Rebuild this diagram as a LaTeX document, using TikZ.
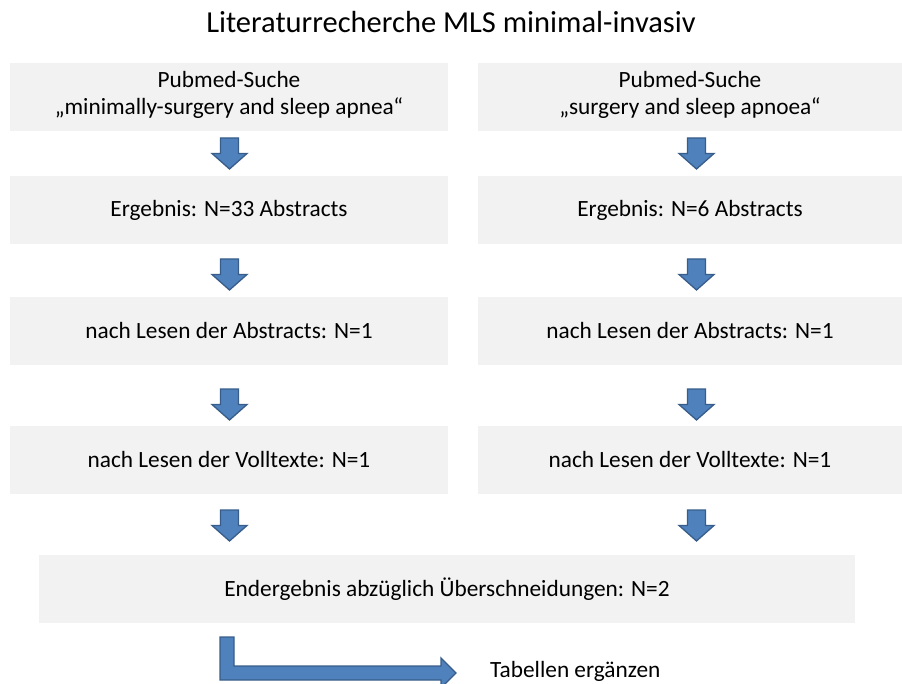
\documentclass[tikz,border=0pt]{standalone}
\usepackage{fontspec}
\setmainfont{Carlito}

\definecolor{boxgray}{HTML}{F2F2F2}
\definecolor{arrowfill}{HTML}{4F81BD}
\definecolor{arrowline}{HTML}{385D8A}

\tikzset{
  boxfont/.style={font=\fontsize{23.3}{27}\selectfont},
  stepbox/.style={fill=boxgray, draw=none, inner sep=0pt, align=center,
    boxfont, minimum height=68pt},
  leftbox/.style={stepbox, minimum width=438pt},
  rightbox/.style={stepbox, minimum width=424pt},
  blockarrow/.style={fill=arrowfill, draw=arrowline, line width=1.3pt,
    line join=miter},
  % block arrow pointing down, centred on the pic's position
  downblock/.pic={
    \path[blockarrow] (-9,-15.5) -- (9,-15.5) -- (9,0) -- (17.5,0)
      -- (0,15.5) -- (-17.5,0) -- (-9,0) -- cycle;
  },
}

\begin{document}
\begin{tikzpicture}[x=1pt, y=-1pt]
  \useasboundingbox (0,0) rectangle (902,684);

  % title
  \node[font=\fontsize{30.5}{34}\selectfont] (title) at (451,22)
    {Literaturrecherche MLS minimal-invasiv};

  % box backgrounds and texts, left column
  \node[leftbox] (l1) at (229,97) {};
  \node[boxfont, align=center] (l1t) at (229,95)
    {Pubmed-Suche\\„minimally-surgery and sleep apnea“};
  \node[leftbox] (l2) at (229,210) {Ergebnis: N=33 Abstracts};
  \node[leftbox] (l3) at (229,331) {nach Lesen der Abstracts: N=1};
  \node[leftbox] (l4) at (229,460) {nach Lesen der Volltexte: N=1};

  % right column
  \node[rightbox] (r1) at (690,97) {};
  \node[boxfont, align=center] (r1t) at (690,95)
    {Pubmed-Suche\\„surgery and sleep apnoea“};
  \node[rightbox] (r2) at (690,210) {Ergebnis: N=6 Abstracts};
  \node[rightbox] (r3) at (690,331) {nach Lesen der Abstracts: N=1};
  \node[rightbox] (r4) at (690,460) {nach Lesen der Volltexte: N=1};

  % final result
  \node[stepbox, minimum width=816pt] (final) at (447,589)
    {Endergebnis abzüglich Überschneidungen: N=2};

  % block arrows between the steps
  \coordinate (la1) at (229.5,153.5);
  \coordinate (la2) at (229.5,274.5);
  \coordinate (la3) at (229.5,404.5);
  \coordinate (la4) at (229.5,525.5);
  \coordinate (ra1) at (696.5,153.5);
  \coordinate (ra2) at (696.5,274.5);
  \coordinate (ra3) at (696.5,404.5);
  \coordinate (ra4) at (696.5,525.5);
  \foreach \a in {la1,la2,la3,la4,ra1,ra2,ra3,ra4}
    \pic at (\a) {downblock};

  % bent arrow to the closing step
  \node[boxfont, anchor=base west, inner sep=0pt] (tab) at (490,677.5)
    {Tabellen ergänzen};
  \path[blockarrow]
    (220,637) -- (234,637) -- (234,666) -- (441,666) -- (441,658)
    -- (456,673) -- (441,688) -- (441,680) -- (220,680) -- cycle;
\end{tikzpicture}
\end{document}
